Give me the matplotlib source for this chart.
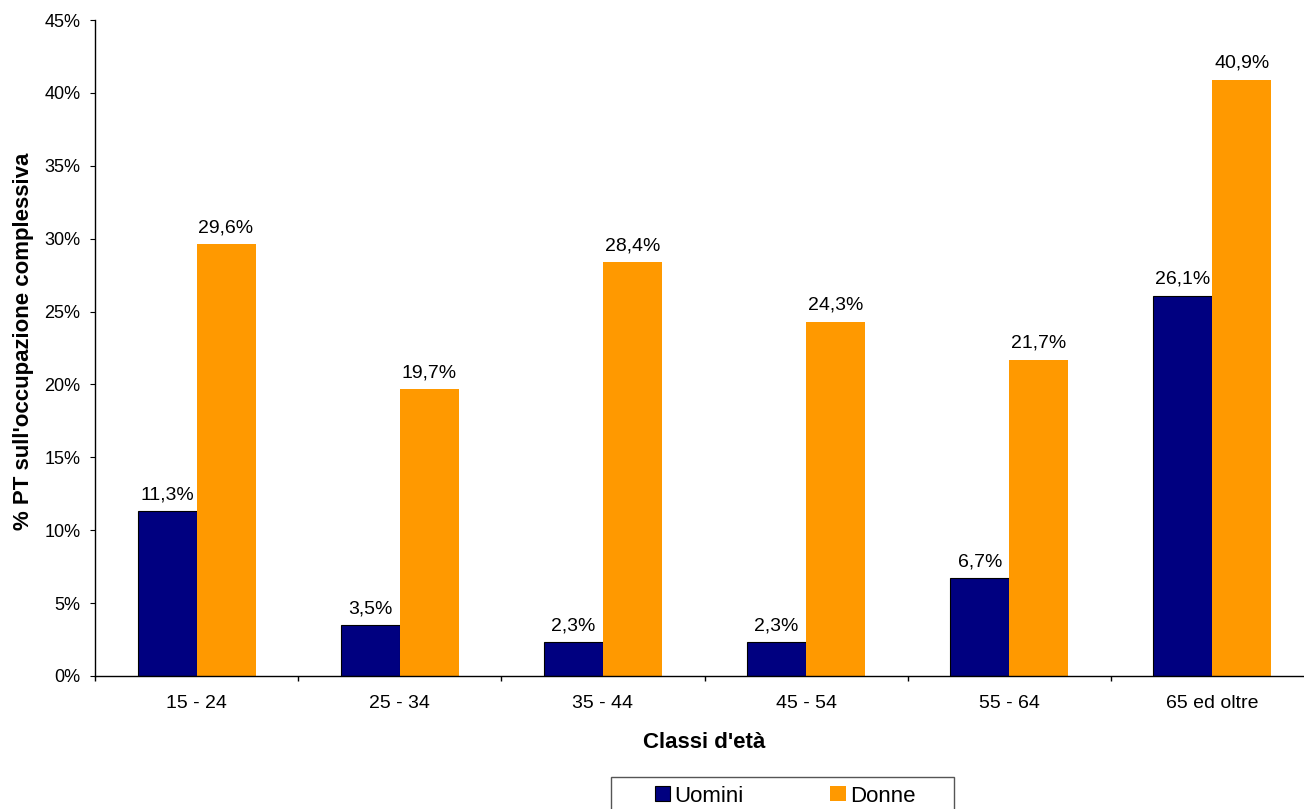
import numpy as np
import matplotlib
matplotlib.use("Agg")
import matplotlib.pyplot as plt
from matplotlib.patches import Rectangle
from matplotlib.ticker import FixedLocator, FuncFormatter

plt.rcParams['font.family'] = ['Liberation Sans', 'DejaVu Sans']

# data
classi = ["15 - 24", "25 - 34", "35 - 44", "45 - 54", "55 - 64", "65 ed oltre"]
uomini = [11.3, 3.5, 2.3, 2.3, 6.7, 26.1]
donne = [29.6, 19.7, 28.4, 24.3, 21.7, 40.9]

W, H = 1304, 809
fig = plt.figure(figsize=(W / 100, H / 100), dpi=100)
# axes box in pixels: left 95, right ~1314 (clipped by the figure), top 20, bottom 676
ax = fig.add_axes([95 / W, (H - 676) / H, (1314 - 95) / W, (676 - 20) / H])

x = np.arange(len(classi))
bw = 0.29
b1 = ax.bar(x - bw / 2, uomini, bw, color="#000080", edgecolor="black", linewidth=0.8, label="Uomini")
b2 = ax.bar(x + bw / 2, donne, bw, color="#FF9900", edgecolor="none", label="Donne")

for bars, vals in ((b1, uomini), (b2, donne)):
    for r, v in zip(bars, vals):
        ax.annotate(f"{v:.1f}%".replace(".", ","), (r.get_x() + r.get_width() / 2, v),
                    xytext=(0, 8.5), textcoords="offset points", ha="center", va="baseline",
                    fontsize=14)

ax.set_xlim(-0.5, len(classi) - 0.5)
ax.set_ylim(0, 45)
ax.set_yticks(np.arange(0, 46, 5))
ax.yaxis.set_major_formatter(FuncFormatter(lambda v, p: f"{v:.0f}%"))
ax.set_xticks(x)
ax.set_xticklabels(classi)
ax.xaxis.set_minor_locator(FixedLocator(np.arange(-0.5, len(classi), 1)))
ax.tick_params(axis="x", which="major", length=0, pad=14, labelsize=14)
ax.tick_params(axis="x", which="minor", length=3.6, direction="out", width=1)
ax.tick_params(axis="y", length=3.6, direction="out", labelsize=13, pad=7)

for s in ("top", "right"):
    ax.spines[s].set_visible(False)
for s in ("left", "bottom"):
    ax.spines[s].set_linewidth(1)

fig.text(24 / W, 1 - 341 / H, "% PT sull'occupazione complessiva", rotation=90,
         ha="center", va="center", fontsize=16, fontweight="bold")
fig.text(704 / W, 1 - 742 / H, "Classi d'età", ha="center", va="center",
         fontsize=16, fontweight="bold")

# legend box, cut off by the bottom of the figure as in the original
fig.patches.append(Rectangle((611 / W, -0.02), (954 - 611) / W, (H - 777) / H + 0.02,
                             transform=fig.transFigure, facecolor="white",
                             edgecolor="#555555", linewidth=1, zorder=1))
leg = fig.legend(handles=[b1, b2], labels=["Uomini", "Donne"], loc="center left",
                 bbox_to_anchor=(655 / W, 1 - 796 / H), ncol=2, fontsize=16,
                 frameon=False, handlelength=0.68, handleheight=0.68,
                 handletextpad=0.2, columnspacing=3.9, borderpad=0, borderaxespad=0)
leg.set_zorder(2)

fig.savefig("out.png", dpi=100)
